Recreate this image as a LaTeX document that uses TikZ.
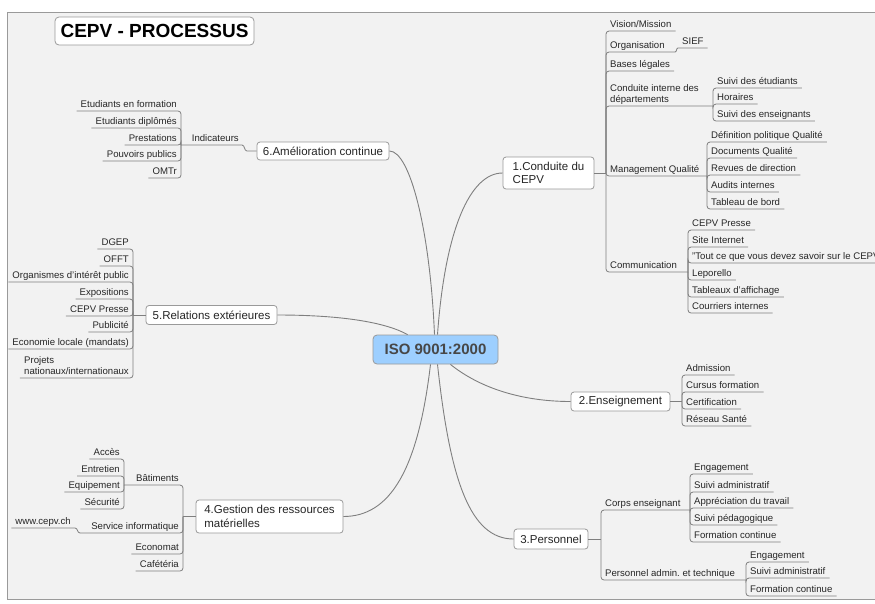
\documentclass[tikz,border=0pt]{standalone}
\usepackage{fontspec}
\setmainfont{Liberation Sans}
\frenchspacing
\definecolor{bg}{HTML}{F2F2F2}
\definecolor{linec}{HTML}{7F7F7F}
\definecolor{boxc}{HTML}{9A9A9A}
\definecolor{txt}{HTML}{262626}
\definecolor{cen}{HTML}{9DCFFF}
\begin{document}
\begin{tikzpicture}[x=1pt,y=-1pt,
  conn/.style={draw=linec, line width=0.8pt, rounded corners=3pt},
  curve/.style={draw=linec, line width=0.9pt},
  leafR/.style={anchor=south west, inner xsep=4pt, inner ysep=1pt, text depth=2pt, font=\fontsize{9.6}{11.5}\selectfont, text=txt, align=left},
  leafL/.style={anchor=south east, inner xsep=4pt, inner ysep=1pt, text depth=2pt, font=\fontsize{9.6}{11.5}\selectfont, text=txt, align=left},
  mainbox/.style={draw=boxc, fill=white, rounded corners=3pt, line width=0.8pt, font=\fontsize{11.5}{13.5}\selectfont, text=txt, inner sep=0pt, align=left},
  centre/.style={draw=boxc, fill=cen, rounded corners=4pt, line width=0.8pt, font=\fontsize{15}{17}\selectfont\bfseries, text=txt!85, inner sep=0pt, minimum width=125pt, minimum height=29pt},
  titlebox/.style={draw=boxc, fill=white, rounded corners=4pt, line width=0.8pt, font=\fontsize{19}{22}\selectfont\bfseries, text=black, inner sep=0pt, minimum width=199pt, minimum height=28pt}
]
\useasboundingbox (0,0) rectangle (875,603);
\fill[white] (0,0) rectangle (875,603);
\draw[draw=boxc, fill=bg, line width=0.9pt] (7,12) rectangle (885,599);

% title and centre
\node[titlebox] (title) at (154.5,31) {CEPV - PROCESSUS};
\node[centre] (iso) at (435.5,349.5) {ISO 9001:2000};

% main topics
\node[mainbox, minimum width=132pt, minimum height=18pt] (m6) at (323,151) {6.Amélioration continue};
\node[mainbox, minimum width=91pt, minimum height=32pt] (m1) at (548.5,173) {1.Conduite du\\CEPV};
\node[mainbox, minimum width=131pt, minimum height=19pt] (m5) at (211.5,315) {5.Relations extérieures};
\node[mainbox, minimum width=99pt, minimum height=19pt] (m2) at (620.5,401.5) {2.Enseignement};
\node[mainbox, minimum width=74pt, minimum height=20pt] (m3) at (551,539) {3.Personnel};
\node[mainbox, minimum width=147pt, minimum height=33pt] (m4) at (269.5,516.5) {4.Gestion des ressources\\matérielles};

% curves from the centre
\draw[curve] (iso.north) ++(-1,0) coordinate (c6) .. controls (430,230) and (410,151) .. (m6.east);
\draw[curve] (iso.north) ++(2,0) coordinate (c1) .. controls (445,230) and (470,173) .. (m1.west);
\draw[curve] (iso.north west) ++(35,0) coordinate (c5) .. controls (385,322) and (340,315) .. (m5.east);
\draw[curve] (iso.south east) ++(-48,0) coordinate (c2) .. controls (485,392) and (530,401.5) .. (m2.west);
\draw[curve] (iso.south) ++(2,0) coordinate (c3) .. controls (450,480) and (470,539) .. (m3.west);
\draw[curve] (iso.south) ++(-5,0) coordinate (c4) .. controls (418,470) and (390,516.5) .. (m4.east);

% ---------- Branch 1 ----------
\coordinate (j1) at (606,173);
\draw[conn] (m1.east) -- (j1);
\node[leafR] (vm) at (606,31) {Vision/Mission};
\draw[conn] (j1) |- (vm.south east);
\node[leafR] (org) at (606,52) {Organisation};
\coordinate (orgJ) at (675,52);
\draw[conn] (j1) |- (orgJ);
\node[leafR] (sief) at (678,48) {SIEF};
\draw[curve, line width=0.8pt] (orgJ) .. controls (677,52) and (676,48) .. (sief.south west) -- (sief.south east);
\node[leafR] (bl) at (606,71) {Bases légales};
\draw[conn] (j1) |- (bl.south east);
\node[leafR] (cid) at (606,106) {Conduite interne des\\départements};
\coordinate (cidJ) at (713,106);
\draw[conn] (j1) |- (cidJ);
\node[leafR] (se) at (713,88) {Suivi des étudiants};
\node[leafR] (hor) at (713,104) {Horaires};
\node[leafR] (sen) at (713,121) {Suivi des enseignants};
\foreach \n in {se,hor,sen} \draw[conn] (cidJ) |- (\n.south east);
\node[leafR] (mq) at (606,176) {Management Qualité};
\coordinate (mqJ) at (707,176);
\draw[conn] (j1) |- (mqJ);
\node[leafR] (dpq) at (707,142) {Définition politique Qualité};
\node[leafR] (dq) at (707,158) {Documents Qualité};
\node[leafR] (rd) at (707,175) {Revues de direction};
\node[leafR] (ai) at (707,192) {Audits internes};
\node[leafR] (tb) at (707,209) {Tableau de bord};
\foreach \n in {dpq,dq,rd,ai,tb} \draw[conn] (mqJ) |- (\n.south east);
\node[leafR] (com) at (606,272) {Communication};
\coordinate (comJ) at (688,272);
\draw[conn] (j1) |- (comJ);
\node[leafR] (cp) at (688,230) {CEPV Presse};
\node[leafR] (sint) at (688,247) {Site Internet};
\node[leafR] (tc) at (688,263) {"Tout ce que vous devez savoir sur le CEPV};
\node[leafR] (lep) at (688,280) {Leporello};
\node[leafR] (ta) at (688,297) {Tableaux d'affichage};
\node[leafR] (ci) at (688,313) {Courriers internes};
\foreach \n in {cp,sint,lep,ta,ci} \draw[conn] (comJ) |- (\n.south east);
\draw[conn] (comJ) |- (tc.south west) -- (900,263);

% ---------- Branch 2 ----------
\coordinate (j2) at (682,401.5);
\draw[conn] (m2.east) -- (j2);
\node[leafR] (adm) at (682,375) {Admission};
\node[leafR] (cf) at (682,392) {Cursus formation};
\node[leafR] (cert) at (682,409) {Certification};
\node[leafR] (rs) at (682,426) {Réseau Santé};
\foreach \n in {adm,cf,cert,rs} \draw[conn] (j2) |- (\n.south east);

% ---------- Branch 3 ----------
\coordinate (j3) at (601,539);
\draw[conn] (m3.east) -- (j3);
\node[leafR] (ce) at (601,510) {Corps enseignant};
\coordinate (ceJ) at (690,510);
\draw[conn] (j3) |- (ceJ);
\node[leafR] (ea) at (690,474) {Engagement};
\node[leafR] (saa) at (690,492) {Suivi administratif};
\node[leafR] (apt) at (690,508) {Appréciation du travail};
\node[leafR] (sp) at (690,525) {Suivi pédagogique};
\node[leafR] (fca) at (690,542) {Formation continue};
\foreach \n in {ea,saa,apt,sp,fca} \draw[conn] (ceJ) |- (\n.south east);
\node[leafR] (pat) at (601,580) {Personnel admin. et technique};
\coordinate (paJ) at (746,580);
\draw[conn] (j3) |- (paJ);
\node[leafR] (eb) at (746,562) {Engagement};
\node[leafR] (sab) at (746,578) {Suivi administratif};
\node[leafR] (fcb) at (746,596) {Formation continue};
\foreach \n in {eb,sab,fcb} \draw[conn] (paJ) |- (\n.south east);

% ---------- Branch 4 ----------
\coordinate (j4) at (183,516.5);
\draw[conn] (m4.west) -- (j4);
\node[leafL] (bat) at (183,485) {Bâtiments};
\coordinate (batJ) at (124,485);
\draw[conn] (j4) |- (batJ);
\node[leafL] (acc) at (124,459) {Accès};
\node[leafL] (ent) at (124,476) {Entretien};
\node[leafL] (equ) at (124,492) {Equipement};
\node[leafL] (sec) at (124,509) {Sécurité};
\foreach \n in {acc,ent,equ,sec} \draw[conn] (batJ) |- (\n.south west);
\node[leafL] (sinf) at (183,533) {Service informatique};
\coordinate (siJ) at (80,533);
\draw[conn] (j4) |- (siJ);
\node[leafL] (www) at (75,528) {www.cepv.ch};
\draw[curve, line width=0.8pt] (siJ) .. controls (77,533) and (78,528) .. (www.south east) -- (www.south west);
\node[leafL] (eco) at (183,554) {Economat};
\node[leafL] (caf) at (183,571) {Cafétéria};
\foreach \n in {eco,caf} \draw[conn] (j4) |- (\n.south west);

% ---------- Branch 5 ----------
\coordinate (j5) at (133,315);
\draw[conn] (m5.west) -- (j5);
\node[leafL] (dgep) at (133,249) {DGEP};
\node[leafL] (offt) at (133,266) {OFFT};
\node[leafL] (oip) at (133,282) {Organismes d'intérêt public};
\node[leafL] (expo) at (133,299) {Expositions};
\node[leafL] (cpb) at (133,316) {CEPV Presse};
\node[leafL] (pub) at (133,332) {Publicité};
\node[leafL] (ecl) at (133,349) {Economie locale (mandats)};
\node[leafL] (proj) at (133,378) {Projets\\nationaux/internationaux};
\foreach \n in {dgep,offt,oip,expo,cpb,pub,ecl,proj} \draw[conn] (j5) |- (\n.south west);

% ---------- Branch 6 ----------
\coordinate (ind6a) at (247,151);
\coordinate (indR) at (242,145);
\coordinate (indJ) at (181,145);
\node[leafL] (ind) at (243,145) {Indicateurs};
\draw[curve, line width=0.8pt] (m6.west) -- (ind6a) .. controls (244,151) and (245,145) .. (indR) -- (indJ);
\node[leafL] (ef) at (181,111) {Etudiants en formation};
\node[leafL] (ed) at (181,128) {Etudiants diplômés};
\node[leafL] (pre) at (181,145) {Prestations};
\node[leafL] (pp) at (181,161) {Pouvoirs publics};
\node[leafL] (omtr) at (181,178) {OMTr};
\foreach \n in {ef,ed,pre,pp,omtr} \draw[conn] (indJ) |- (\n.south west);
\end{tikzpicture}
\end{document}
